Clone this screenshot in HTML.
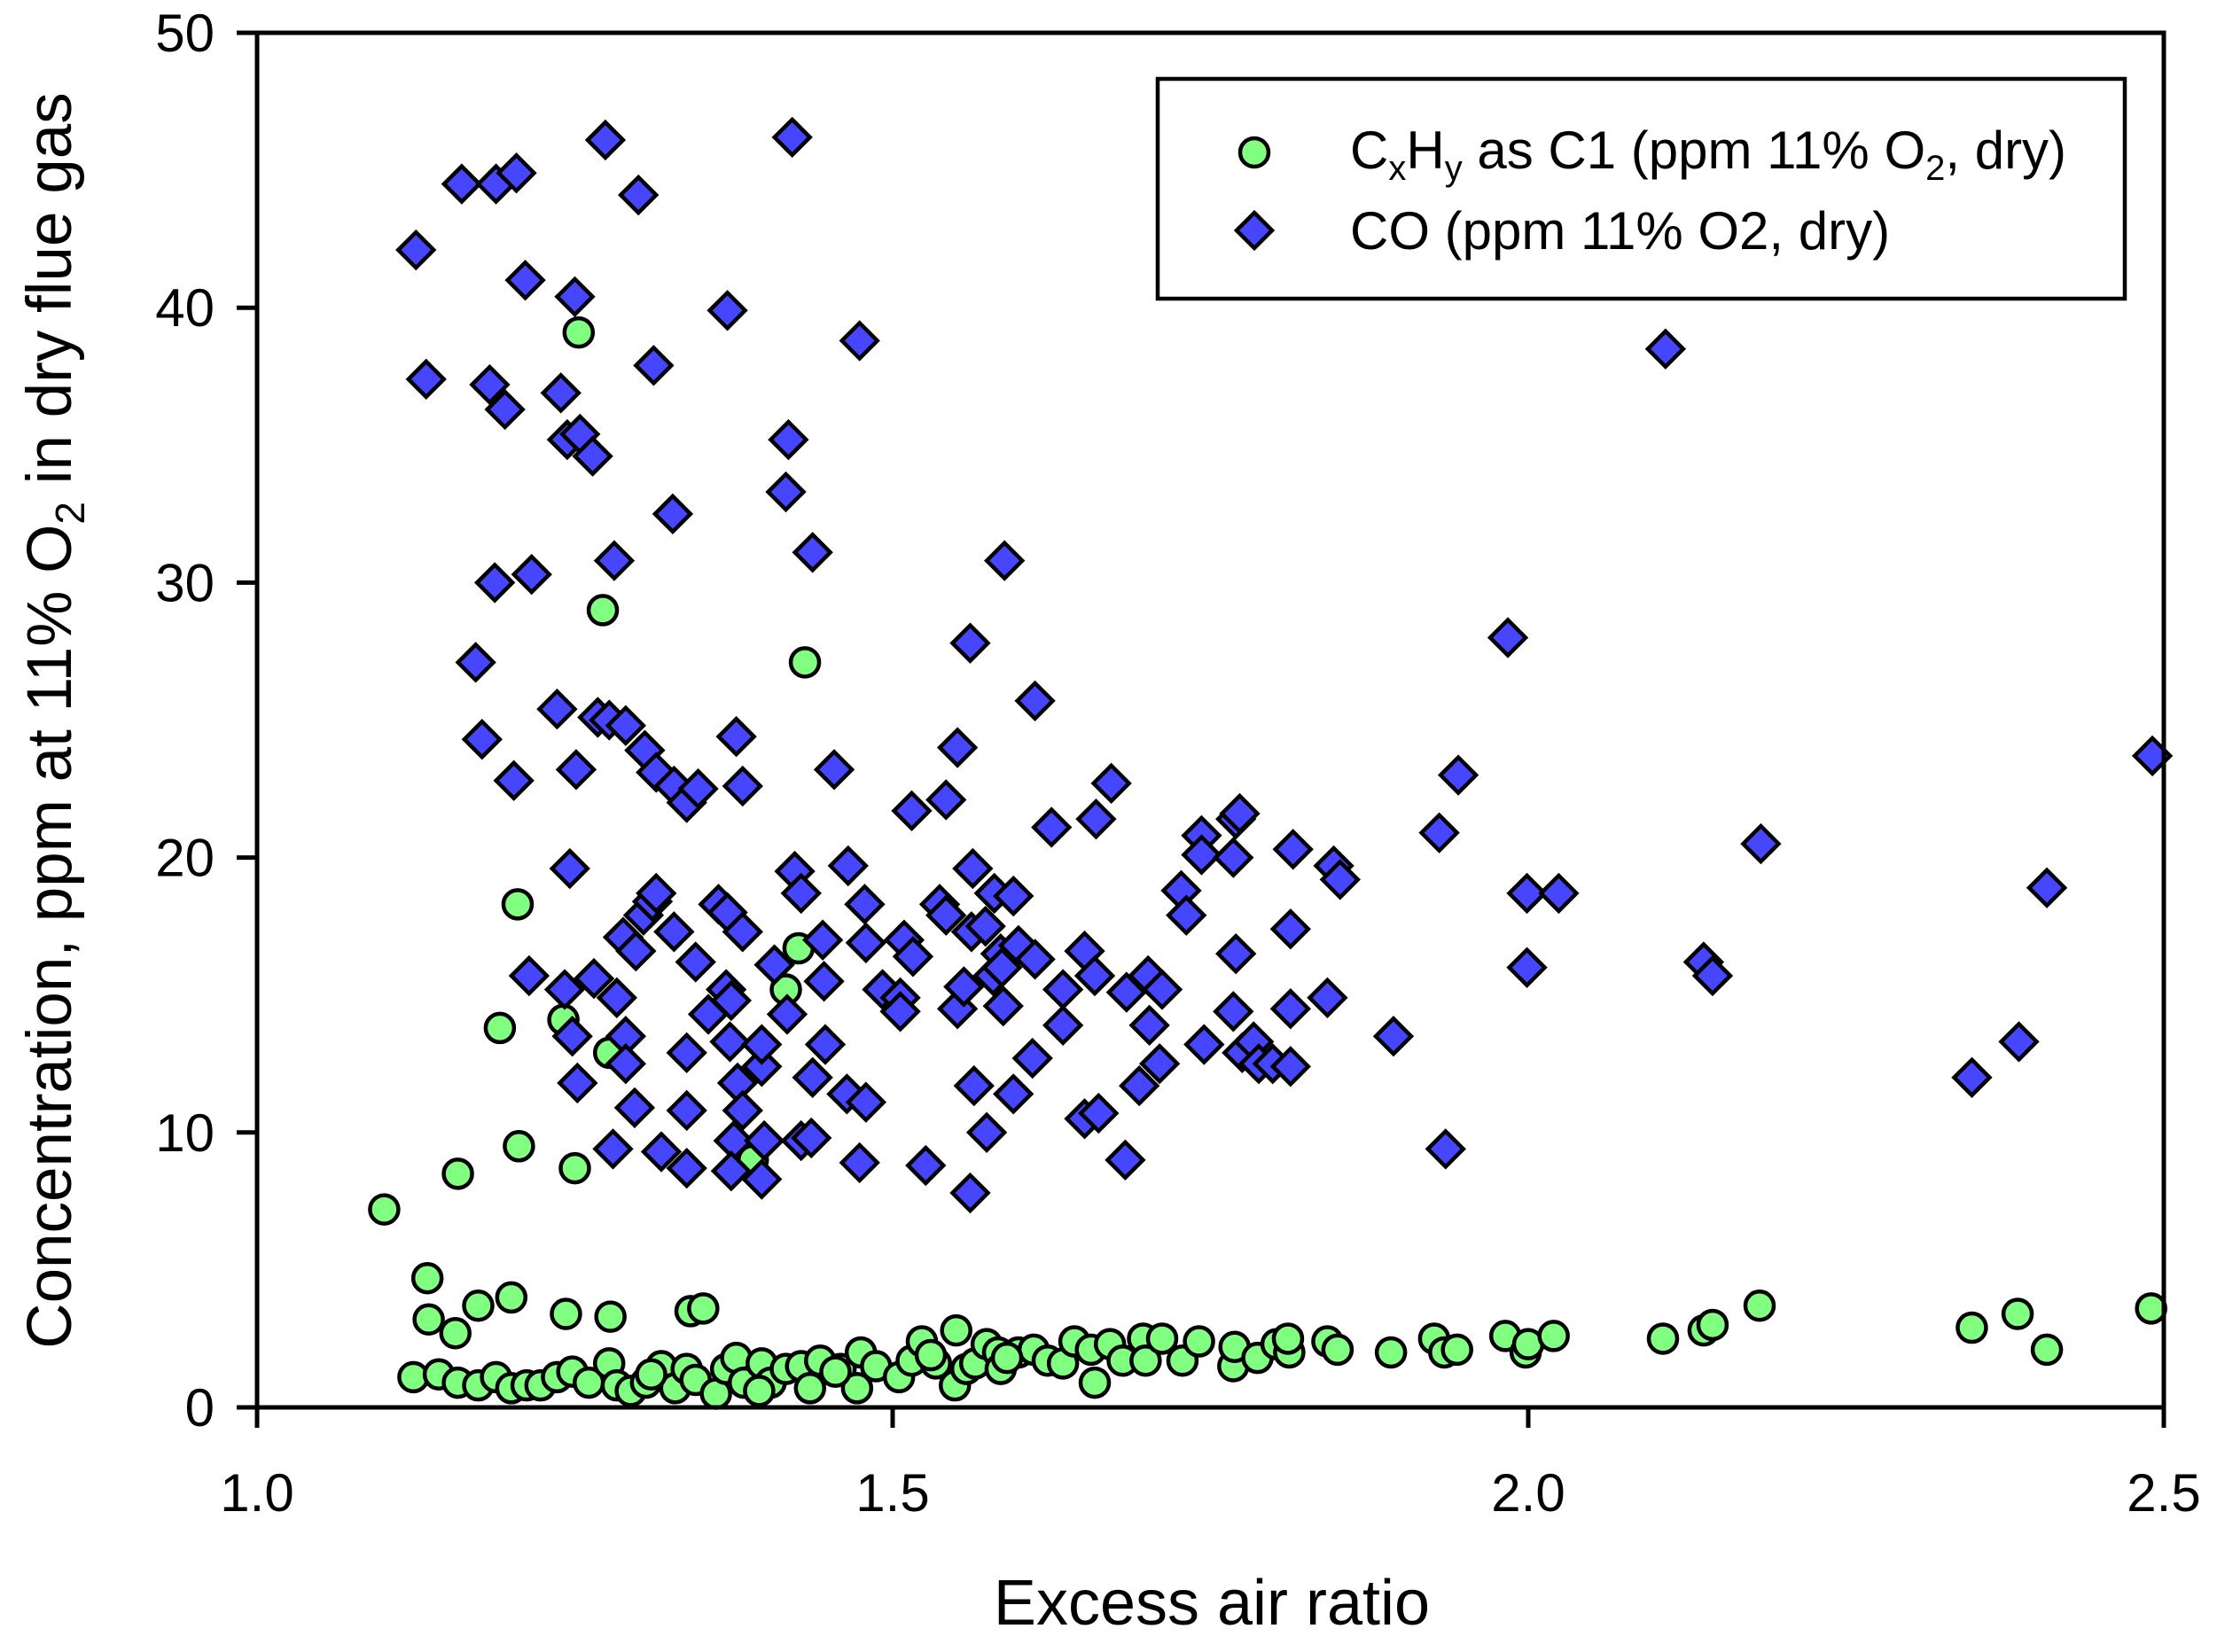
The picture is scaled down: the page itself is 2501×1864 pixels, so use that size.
<!DOCTYPE html>
<html><head><meta charset="utf-8"><style>
html,body{margin:0;padding:0;background:#fff;}
svg{display:block;font-family:"Liberation Sans",Arial,sans-serif;}
</style></head><body>
<svg id="chart" width="2501" height="1864" viewBox="0 0 2501 1864" xmlns="http://www.w3.org/2000/svg">
<g id="marks"></g>
<g id="axes"></g>
<g id="legend">
<rect x="1306" y="89" width="1091" height="248" fill="#fff" stroke="#000" stroke-width="4.5"/>
<circle cx="1415" cy="172" r="16" fill="#80FF80" stroke="#000" stroke-width="4.5"/>
<text x="1523" y="190" font-size="60">C<tspan font-size="40" dy="13">x</tspan><tspan dy="-13">H</tspan><tspan font-size="40" dy="13">y</tspan><tspan dy="-13"> as C1 (ppm 11% O</tspan><tspan font-size="40" dy="13">2</tspan><tspan dy="-13">, dry)</tspan></text>
<polygon points="1415,240 1435,260 1415,280 1395,260" fill="#4646FF" stroke="#000" stroke-width="4.5"/>
<text x="1523" y="281" font-size="60">CO (ppm 11% O2, dry)</text>
</g>
<text x="1367" y="1833" font-size="72" text-anchor="middle">Excess air ratio</text>
<text transform="translate(80,813) rotate(-90)" font-size="71" text-anchor="middle">Concentration, ppm at 11% O<tspan font-size="46" dy="15">2</tspan><tspan dy="-15"> in dry flue gas</tspan></text>
</svg>
<script>
const xTicks=[1.0,1.5,2.0,2.5];
const yTicks=[0,10,20,30,40,50];
const coX=[1.125,1.133,1.161,1.188,1.204,1.211,1.183,1.195,1.187,1.216,1.172,1.177,1.202,1.214,1.239,1.244,1.250,1.254,1.264,1.274,1.300,1.312,1.281,1.327,1.236,1.251,1.268,1.277,1.290,1.305,1.314,1.328,1.338,1.347,1.246,1.242,1.248,1.252,1.265,1.283,1.288,1.298,1.304,1.311,1.314,1.328,1.345,1.290,1.290,1.297,1.280,1.318,1.338,1.338,1.338,1.370,1.421,1.418,1.416,1.437,1.474,1.377,1.382,1.363,1.370,1.382,1.355,1.369,1.373,1.372,1.378,1.382,1.375,1.373,1.397,1.399,1.397,1.397,1.407,1.417,1.423,1.428,1.445,1.446,1.447,1.437,1.428,1.436,1.454,1.465,1.478,1.479,1.464,1.479,1.474,1.492,1.506,1.509,1.516,1.506,1.515,1.542,1.537,1.542,1.551,1.561,1.563,1.588,1.612,1.551,1.556,1.562,1.573,1.579,1.585,1.580,1.595,1.587,1.586,1.599,1.612,1.564,1.574,1.595,1.610,1.561,1.526,1.625,1.634,1.634,1.651,1.660,1.672,1.659,1.651,1.662,1.683,1.684,1.701,1.712,1.702,1.694,1.710,1.727,1.731,1.743,1.743,1.770,1.773,1.768,1.745,1.768,1.770,1.775,1.784,1.788,1.799,1.813,1.813,1.813,1.815,1.842,1.847,1.852,1.894,1.930,1.935,1.945,1.984,1.999,2.024,1.999,2.108,2.138,2.145,2.183,2.349,2.386,2.408,2.491];
const coY=[42.1,37.4,44.5,44.5,44.9,41.0,37.2,36.3,30.0,30.3,27.1,24.3,22.8,15.7,36.9,35.2,40.4,35.4,34.6,46.1,44.1,37.9,30.8,32.5,25.4,23.2,25.1,25.0,24.8,23.9,23.1,22.6,22.0,22.5,19.6,15.2,13.5,11.8,15.6,14.9,17.1,16.6,17.9,18.4,18.7,17.3,16.2,13.5,12.5,10.9,9.4,9.3,12.9,10.8,8.7,39.9,46.2,35.2,33.3,31.1,38.8,24.4,22.6,18.3,18.0,17.3,14.3,15.2,14.8,13.3,11.8,10.8,9.7,8.6,8.3,9.7,12.4,13.2,16.1,14.3,19.5,18.7,17.0,15.5,13.2,12.0,9.7,9.8,23.2,19.7,18.3,16.9,11.4,11.1,8.9,15.2,14.9,17.0,16.4,14.4,21.7,22.1,18.3,17.9,24.0,27.8,19.6,30.8,25.7,14.5,15.3,17.3,17.5,15.7,16.5,18.7,18.6,14.6,16.0,16.8,16.3,11.7,10.0,11.4,12.7,7.8,8.8,21.1,15.2,13.9,16.6,21.4,22.7,15.7,10.5,10.7,9.0,15.1,15.7,15.2,13.9,11.7,12.5,18.8,17.9,20.8,20.1,21.4,21.6,20.0,13.2,14.4,16.5,12.9,13.3,12.5,12.5,12.4,14.5,17.4,20.3,14.9,19.7,19.2,13.5,20.9,9.4,23.0,28.0,18.7,18.7,16.0,38.5,16.2,15.7,20.5,12.0,13.3,18.9,23.7];
const hcX=[1.100,1.253,1.272,1.431,1.205,1.191,1.158,1.206,1.250,1.241,1.277,1.426,1.416,1.390,1.134,1.135,1.156,1.174,1.200,1.243,1.278,1.341,1.351,1.123,1.143,1.158,1.174,1.188,1.200,1.212,1.223,1.236,1.248,1.261,1.277,1.283,1.294,1.306,1.318,1.329,1.338,1.345,1.361,1.369,1.377,1.383,1.397,1.404,1.416,1.428,1.435,1.443,1.459,1.475,1.472,1.487,1.505,1.515,1.523,1.534,1.550,1.549,1.558,1.565,1.574,1.583,1.585,1.599,1.611,1.622,1.634,1.643,1.656,1.659,1.671,1.681,1.697,1.699,1.712,1.728,1.741,1.768,1.769,1.787,1.802,1.812,1.811,1.842,1.850,1.892,1.926,1.934,1.944,1.982,1.998,2.000,2.020,2.106,2.138,2.145,2.182,2.349,2.385,2.408,2.490,1.310,1.395,1.455,1.530,1.590];
const hcY=[7.2,39.1,29.0,27.1,18.3,13.8,8.5,9.5,8.7,14.1,12.9,16.7,15.2,9.0,4.7,3.2,2.7,3.7,4.0,3.4,3.3,3.5,3.6,1.1,1.2,0.9,0.8,1.1,0.7,0.8,0.8,1.1,1.3,0.9,1.6,0.8,0.6,0.9,1.5,0.7,1.4,1.0,0.5,1.4,1.8,0.9,1.6,0.9,1.4,1.5,0.7,1.7,1.4,2.0,0.7,1.5,1.1,1.7,2.4,1.6,2.8,0.8,1.4,1.6,2.3,2.0,1.4,2.0,2.1,1.7,1.6,2.4,2.1,0.9,2.3,1.7,2.5,1.7,2.5,1.7,2.4,1.5,2.2,1.8,2.3,2.0,2.5,2.4,2.1,2.0,2.5,2.0,2.1,2.6,2.0,2.3,2.6,2.5,2.8,3.0,3.7,2.9,3.4,2.1,3.6,1.2,0.6,1.3,1.9,1.8];

const L=290,R=2441,T=37,B=1588;
const xs=v=>L+(v-1)/1.5*(R-L);
const ys=v=>B-v/50*(B-T);
const NS="http://www.w3.org/2000/svg";
const marks=document.getElementById('marks');
const axes=document.getElementById('axes');
function mk(tag,attrs,parent){const e=document.createElementNS(NS,tag);for(const k in attrs)e.setAttribute(k,attrs[k]);parent.appendChild(e);return e;}

for(let i=0;i<hcX.length;i++){
  const c=mk('circle',{cx:xs(hcX[i]),cy:ys(hcY[i]),r:16,fill:'#80FF80',stroke:'#000','stroke-width':4.5},marks);
  
  
}
for(let i=0;i<coX.length;i++){
  const x=xs(coX[i]),y=ys(coY[i]),d=20;
  const p=mk('polygon',{points:`${x},${y-d} ${x+d},${y} ${x},${y+d} ${x-d},${y}`,fill:'#4646FF',stroke:'#000','stroke-width':4.5},marks);
  
  
}
const frame=mk('rect',{x:L,y:T,width:R-L,height:B-T,fill:'none',stroke:'#000','stroke-width':5},axes);


xTicks.forEach(t=>{
  const x=xs(t);
  const tk=mk('line',{x1:x,y1:B,x2:x,y2:B+23,stroke:'#000','stroke-width':5},axes);
  
  
  const lb=mk('text',{x:x,y:1705,'font-size':60,'text-anchor':'middle'},axes);
  lb.textContent=t.toFixed(1);
  
  
});
yTicks.forEach(t=>{
  const y=ys(t);
  const tk=mk('line',{x1:L-23,y1:y,x2:L,y2:y,stroke:'#000','stroke-width':5},axes);
  
  
  const lb=mk('text',{x:242,y:y+21,'font-size':60,'text-anchor':'end'},axes);
  lb.textContent=String(t);
  
  
});
</script>
</body></html>
